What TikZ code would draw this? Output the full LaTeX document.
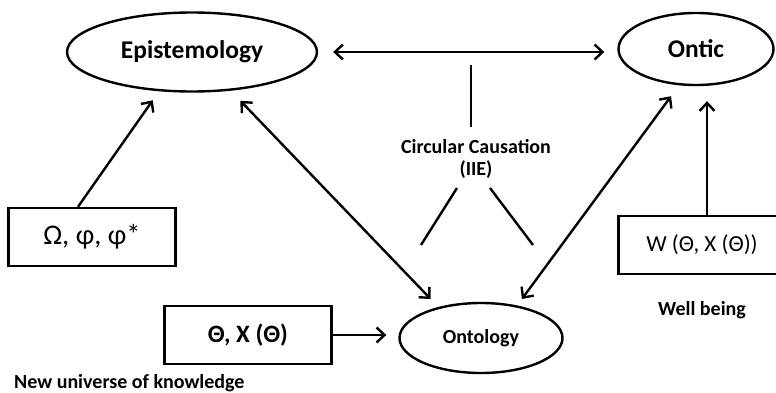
\documentclass[tikz,border=0pt]{standalone}
\usepackage{fontspec}
\setmainfont{Carlito}
\usetikzlibrary{shapes.geometric,arrows.meta}
\begin{document}
\begin{tikzpicture}[x=1pt,y=-1pt,
    line width=2.4pt,
    ell_node/.style={ellipse,draw,inner sep=0pt,font=\bfseries\fontsize{25.5}{28}\selectfont},
    box_node/.style={rectangle,draw,minimum width=167pt,minimum height=58pt,inner sep=0pt},
    lbl/.style={font=\bfseries\fontsize{20}{22}\selectfont,align=center,inner sep=0pt},
    arr/.style={-{Straight Barb[length=8pt,width=15pt]}},
    darr/.style={{Straight Barb[length=8pt,width=15pt]}-{Straight Barb[length=8pt,width=15pt]}}
  ]
  \useasboundingbox (0,0) rectangle (776,393);
  \node[ell_node,minimum width=250pt,minimum height=79pt] (epi) at (192,52) {Epistemology};
  \node[ell_node,minimum width=155pt,minimum height=72pt] (ontic) at (696,49) {Ontic};
  \node[ell_node,minimum width=163pt,minimum height=70pt,font=\bfseries\fontsize{20}{22}\selectfont] (ontol) at (481,338) {Ontology};
  \node[box_node,font=\fontsize{28.5}{30}\selectfont] (omega) at (92,237) {Ω, φ, φ*};
  \node[box_node,font=\bfseries\fontsize{25}{28}\selectfont] (theta) at (248,335) {Θ, X (Θ)};
  \node[box_node,font=\fontsize{23}{26}\selectfont] (wbox) at (702,245) {W (Θ, X (Θ))};
  \node[lbl] (cc) at (476,159) {Circular Causation\\(IIE)};
  \node[lbl] (well) at (702,310) {Well being};
  \node[lbl,anchor=base west] (nuk) at (13,388) {New universe of knowledge};
  \draw[darr,shorten <=15pt,shorten >=13pt] (epi.east) -- (epi.east -| ontic.west);
  \draw[arr,shorten >=11pt] ([xshift=-14pt]omega.north) -- (epi.230);
  \draw[darr,shorten <=14pt,shorten >=11pt] (epi.315) -- (ontol.144);
  \draw[darr,shorten <=13.5pt,shorten >=8pt] (ontic.245.6) -- (ontol.42.7);
  \draw[arr,shorten >=15pt] ([xshift=5pt]wbox.north) -- ([xshift=5pt]wbox.north |- ontic.south);
  \draw[arr,shorten >=12pt] (theta.east) -- (theta.east -| ontol.west);
  \draw (471,65) -- (471,127);
  \draw (457,188) -- (421,245);
  \draw (490,188) -- (533,245);
\end{tikzpicture}
\end{document}
